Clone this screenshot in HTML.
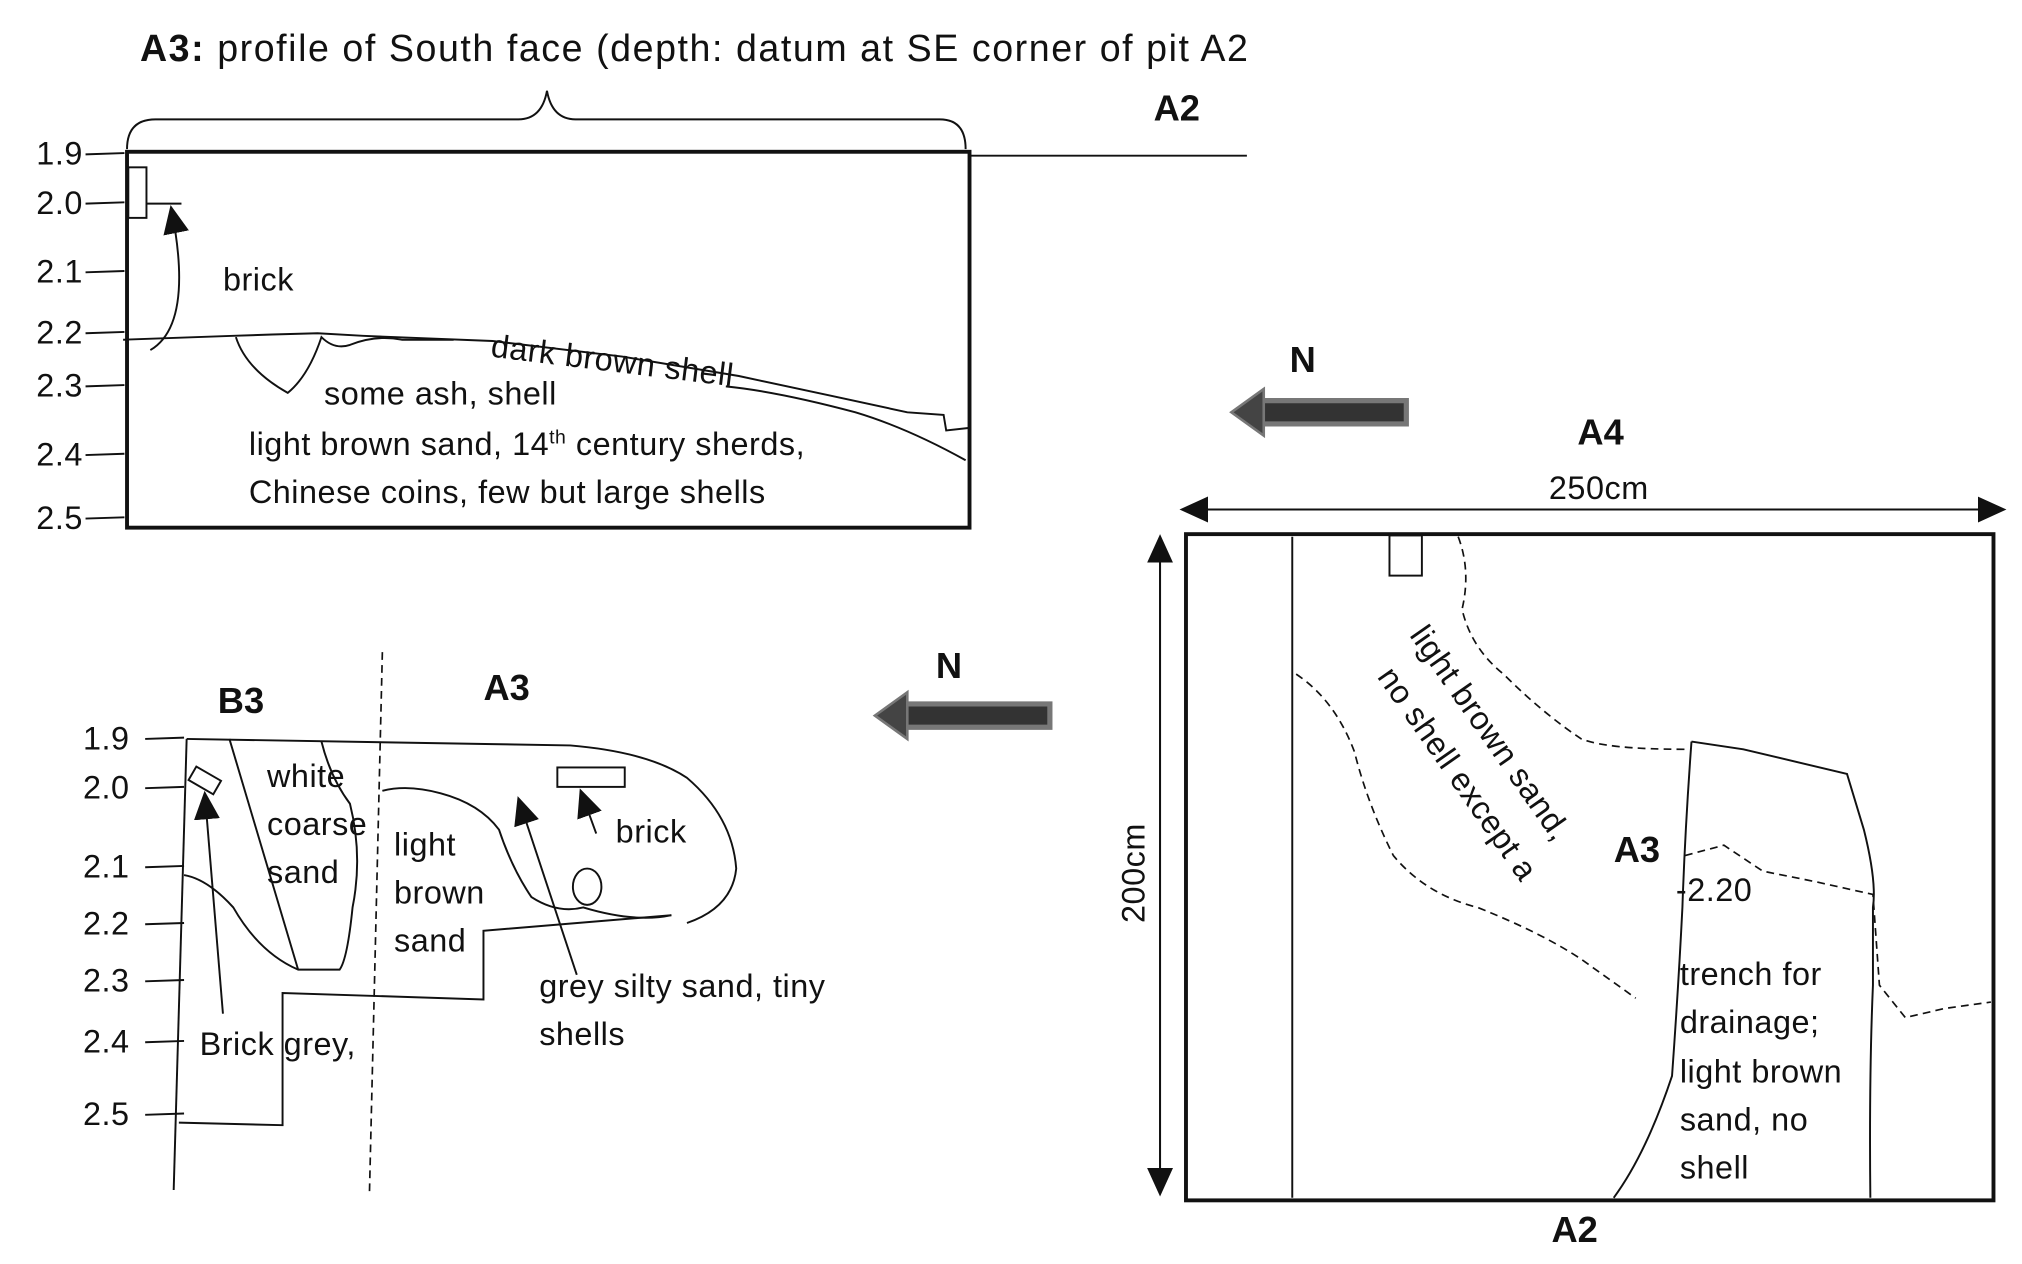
<!DOCTYPE html>
<html><head><meta charset="utf-8"><style>
html,body{margin:0;padding:0;background:#fff;}
svg{display:block;font-family:"Liberation Sans",sans-serif;}
text{fill:#111;font-size:25px;letter-spacing:0.4px;}
.b{font-weight:bold;font-size:28px;letter-spacing:0;}
.ln{fill:none;stroke:#111;stroke-width:1.5;}
.dl{fill:none;stroke:#111;stroke-width:1.3;stroke-dasharray:6 4;}
</style></head><body>
<svg width="2022" height="1264" viewBox="0 0 1560 975">
<defs>
<marker id="ah2" markerWidth="24" markerHeight="24" refX="20" refY="10" orient="auto" markerUnits="userSpaceOnUse"><path d="M0,0 L22,10 L0,20 z" fill="#111"/></marker>
</defs>

<g>
<text x="108" y="47" style="font-size:29px;letter-spacing:1.2px"><tspan font-weight="bold">A3:</tspan><tspan font-weight="normal"> profile of South face (depth: datum at SE corner of pit A2</tspan></text>
<path class="ln" d="M98,115 Q98,92 120,92 L400,92 Q418,92 422,70 Q426,92 444,92 L725,92 Q745,92 745,115"/>
<rect x="98" y="117" width="650" height="290" fill="none" stroke="#111" stroke-width="3"/>
<line x1="748" y1="120" x2="962" y2="120" class="ln"/>
<text x="890" y="93" class="b">A2</text>
<g id="depthTop"></g>
<rect x="99" y="129" width="14" height="39" class="ln"/>
<line x1="113" y1="157" x2="140" y2="157" class="ln"/>
<path class="ln" d="M116,270 Q150,250 132,160" marker-end="url(#ah2)"/>
<text x="172" y="224">brick</text>
<path class="ln" d="M95,262 L180,259 L210,258 L245,257 L280,259 L380,263 L480,275 L570,290 L640,305 L700,318 L728,320 L730,332 L748,330"/>
<path class="ln" d="M182,260 Q190,285 222,303 Q238,290 248,260 Q258,270 270,266 Q290,258 310,262 Q330,262 350,262" />
<path class="ln" d="M560,298 Q600,302 660,318 Q700,330 745,355"/>
<text x="378" y="275" transform="rotate(7 378 275)">dark brown shell</text>
<text x="250" y="312">some ash, shell</text>
<text x="192" y="351">light brown sand, 14<tspan dy="-9" font-size="15">th</tspan><tspan dy="9"> century sherds,</tspan></text>
<text x="192" y="388">Chinese coins, few but large shells</text>
</g>

<g>
<text x="995" y="287" class="b">N</text>
<path d="M1087,318 L975,318" stroke="#777" stroke-width="22" fill="none"/>
<path d="M1083,318 L975,318" stroke="#333" stroke-width="14" fill="none"/>
<path d="M975,300 L950,318 L975,336 z" fill="#444" stroke="#777" stroke-width="2"/>
<text x="1217" y="343" class="b">A4</text>
<line x1="912" y1="393" x2="1546" y2="393" class="ln" marker-end="url(#ah2)"/>
<line x1="1546" y1="393" x2="912" y2="393" class="ln" marker-end="url(#ah2)"/>
<text x="1195" y="385">250cm</text>
<rect x="915" y="412" width="623" height="514" fill="none" stroke="#111" stroke-width="3"/>
<line x1="895" y1="921" x2="895" y2="414" class="ln" marker-end="url(#ah2)"/>
<line x1="895" y1="414" x2="895" y2="921" class="ln" marker-end="url(#ah2)"/>
<text x="883" y="712" transform="rotate(-90 883 712)">200cm</text>
<line x1="997" y1="414" x2="997" y2="924" class="ln"/>
<rect x="1072" y="413" width="25" height="31" class="ln"/>
<path class="dl" d="M1125,414 Q1135,440 1128,470 Q1135,500 1160,520 Q1190,550 1220,570 Q1240,578 1300,578"/>
<path class="dl" d="M1000,520 Q1030,540 1045,580 Q1055,620 1075,660 Q1100,690 1140,700 Q1190,720 1220,740 L1262,770"/>
<path class="ln" d="M1305,572 Q1300,640 1298,700 Q1295,760 1290,830 Q1270,890 1245,924"/>
<path class="ln" d="M1305,572 L1345,578 L1425,597 L1438,640 Q1448,680 1445,700 L1445,760 Q1442,830 1443,924"/>
<path class="dl" d="M1300,660 L1330,652 L1360,672 L1400,680 L1445,690 L1450,760 L1470,785 L1500,778 L1536,773"/>
<text x="1087" y="490" transform="rotate(55 1087 490)">light brown sand,</text>
<text x="1062" y="522" transform="rotate(55 1062 522)">no shell except a</text>
<text x="1245" y="665" class="b">A3</text>
<text x="1293" y="695">-2.20</text>
<text x="1296" y="760">trench for</text>
<text x="1296" y="797">drainage;</text>
<text x="1296" y="835">light brown</text>
<text x="1296" y="872">sand, no</text>
<text x="1296" y="909">shell</text>
<text x="1197" y="958" class="b">A2</text>
</g>

<g>
<text x="722" y="523" class="b">N</text>
<path d="M812,552 L700,552" stroke="#777" stroke-width="22" fill="none"/>
<path d="M808,552 L700,552" stroke="#333" stroke-width="14" fill="none"/>
<path d="M700,534 L675,552 L700,570 z" fill="#444" stroke="#777" stroke-width="2"/>
<text x="168" y="550" class="b">B3</text>
<text x="373" y="540" class="b">A3</text>
<g id="depthBot"></g>
<line x1="295" y1="503" x2="285" y2="922" class="dl"/>
<path class="ln" d="M144,570 L134,918"/>
<path class="ln" d="M144,570 L380,574 L440,575 Q500,580 530,600 Q565,630 568,670 Q565,700 530,712"/>
<path class="ln" d="M177,570 L230,748"/>
<path class="ln" d="M248,572 Q255,600 270,620 Q280,660 272,700 Q268,740 262,748 L230,748 Q200,735 180,700 Q160,678 142,675"/>
<path class="ln" d="M295,610 Q315,605 340,612 Q370,620 385,640 Q395,670 410,692 Q430,705 450,700 Q490,712 518,706"/>
<path class="ln" d="M138,866 L218,868 L218,766 L373,771 L373,718 L518,706"/>
<rect x="147" y="596" width="22" height="12" transform="rotate(30 158 602)" class="ln"/>
<line x1="172" y1="782" x2="158" y2="612" class="ln" marker-end="url(#ah2)"/>
<rect x="430" y="592" width="52" height="15" class="ln"/>
<line x1="460" y1="643" x2="448" y2="610" class="ln" marker-end="url(#ah2)"/>
<ellipse cx="453" cy="684" rx="11" ry="14" class="ln"/>
<line x1="445" y1="752" x2="400" y2="616" class="ln" marker-end="url(#ah2)"/>
<text x="206" y="607">white</text>
<text x="206" y="644">coarse</text>
<text x="206" y="681">sand</text>
<text x="304" y="660">light</text>
<text x="304" y="697">brown</text>
<text x="304" y="734">sand</text>
<text x="475" y="650">brick</text>
<text x="416" y="769">grey silty sand, tiny</text>
<text x="416" y="806">shells</text>
<text x="154" y="814">Brick grey,</text>
</g>

<script>
const depthTop=["1.9","2.0","2.1","2.2","2.3","2.4","2.5"];
const depthTopY=[119,157,210,257,298,351,400];
const depthBot=["1.9","2.0","2.1","2.2","2.3","2.4","2.5"];
const depthBotY=[570,608,669,713,757,804,860];
const ns="http://www.w3.org/2000/svg";
function draw(gid,labels,ys,tx,x1,x2){
  const g=document.getElementById(gid);
  labels.forEach((l,i)=>{
    const t=document.createElementNS(ns,"text");
    t.setAttribute("x",tx);t.setAttribute("y",ys[i]+8);t.textContent=l;
    
    
    g.appendChild(t);
    const ln=document.createElementNS(ns,"line");
    ln.setAttribute("x1",x1);ln.setAttribute("x2",x2);
    ln.setAttribute("y1",ys[i]);ln.setAttribute("y2",ys[i]-1);
    ln.setAttribute("class","ln");
    
    
    g.appendChild(ln);
  });
}
draw("depthTop",depthTop,depthTopY,28,66,96);
draw("depthBot",depthBot,depthBotY,64,112,142);
</script>
</svg>
</body></html>
